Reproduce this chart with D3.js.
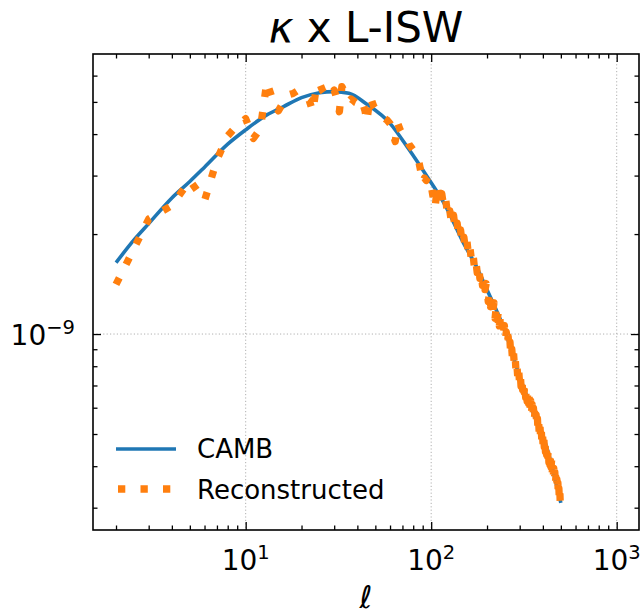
<!DOCTYPE html>
<html>
<head>
<meta charset="utf-8">
<script src="https://cdn.jsdelivr.net/npm/d3@7/dist/d3.min.js"></script>
<style>
  body { margin: 0; background: #fff; }
  svg { font-family: "DejaVu Sans", sans-serif; }
</style>
</head>
<body>
<div id="graphicContainer"></div>
<script>
// spectra are in units of 1e-9
var cambEll = [2, 2.5, 3, 4, 5, 6, 8, 10, 13, 16, 20, 25, 30, 36, 45, 60, 75, 95, 120, 150, 175, 200, 250, 300, 350, 420, 500]
var cambVal = [1.64, 1.92, 2.15, 2.57, 2.88, 3.18, 3.73, 4.12, 4.57, 4.84, 5.15, 5.33, 5.37, 5.31, 4.92, 4.31, 3.63, 2.98, 2.42, 1.87, 1.60, 1.36, 1.02, 0.745, 0.59, 0.455, 0.31]

var reconEll = [
  2, 3, 4, 5, 6, 7, 8, 9, 10, 11, 12, 13, 14, 15, 16, 17, 18, 19, 20, 21, 22, 23, 24, 25, 26,
  27, 28, 29, 30, 31, 32, 33, 34, 35, 36, 37, 38, 39, 40, 41, 42, 43, 44, 45, 46, 47, 48, 49, 50,
  52, 54, 56, 58, 60, 62, 64, 66, 68, 70, 72, 74, 76, 78, 80, 82, 84, 86, 88, 90, 92, 94, 96, 98, 100,
  102, 105, 108, 111, 114, 117, 120, 123, 126, 129, 132, 135, 138, 141, 144, 147, 150,
  153, 156, 159, 162, 165, 168, 171, 174, 177, 180, 183, 186, 189, 192, 195, 198,
  200, 203, 206, 209, 212, 215, 218, 221, 224, 227,
  230, 233, 236, 239, 242, 245, 248, 251, 254, 257,
  260, 263, 266, 269, 272, 275, 278, 281, 284, 287,
  290, 293, 296, 299, 302, 305, 308, 311, 314, 317,
  320, 323, 326, 329, 332, 335, 338, 341, 344, 347,
  350, 353, 356, 359, 362, 365, 368, 371, 374, 377,
  380, 383, 386, 389, 392, 395, 398, 401, 404, 407,
  410, 413, 416, 419, 422, 425, 428, 431, 434, 437,
  440, 443, 446, 449, 452, 455, 458, 461, 464, 467,
  470, 473, 476, 479, 482, 485, 488, 491, 494, 497,
  500
]
var reconVal = [
  1.41, 2.22, 2.44, 2.90, 2.52, 3.35, 3.95, 4.25, 4.45, 3.88, 4.15, 5.75, 5.05, 4.70, 5.00, 5.25, 5.30, 5.40, 5.32, 5.15, 5.05, 4.68, 5.50, 5.70, 5.40,
  5.25, 5.15, 5.30, 5.43, 5.10, 4.67, 5.56, 5.37, 5.20, 5.02, 5.10, 5.05, 4.98, 4.95, 5.05, 5.09, 4.90, 4.70, 4.36, 4.80, 5.18, 5.00, 4.85, 4.78,
  4.65, 4.55, 4.46, 4.40, 4.30, 4.05, 3.80, 4.31, 4.12, 4.00, 3.92, 3.89, 3.72, 3.65, 3.58, 3.42, 3.35, 3.28, 3.08, 2.87, 2.95, 2.90, 2.98, 2.92, 2.80,
  2.62, 2.40, 2.80, 2.48, 2.65, 2.40, 2.52, 2.25, 2.35, 2.14, 2.28, 2.05, 2.16, 1.95, 2.06, 1.86, 1.96,
  1.80, 1.90, 1.72, 1.81, 1.66, 1.74, 1.59, 1.67, 1.53, 1.61, 1.47, 1.54, 1.40, 1.48, 1.36, 1.42,
  1.383, 1.254, 1.320, 1.208, 1.285, 1.179, 1.242, 1.115, 1.202, 1.104,
  1.165, 1.058, 1.117, 1.023, 1.092, 1.004, 1.061, 0.964, 1.014, 0.926,
  0.983, 0.899, 0.945, 0.855, 0.900, 0.823, 0.875, 0.800, 0.842, 0.763,
  0.803, 0.737, 0.786, 0.722, 0.763, 0.696, 0.737, 0.679, 0.726, 0.668,
  0.707, 0.644, 0.682, 0.627, 0.671, 0.618, 0.655, 0.597, 0.629, 0.576,
  0.614, 0.565, 0.598, 0.545, 0.578, 0.533, 0.571, 0.526, 0.556, 0.506,
  0.536, 0.493, 0.528, 0.487, 0.517, 0.473, 0.503, 0.464, 0.496, 0.457,
  0.484, 0.442, 0.470, 0.433, 0.464, 0.427, 0.451, 0.411, 0.437, 0.403,
  0.432, 0.397, 0.419, 0.381, 0.403, 0.370, 0.394, 0.362, 0.384, 0.350,
  0.371, 0.341, 0.365, 0.336, 0.356, 0.324, 0.343, 0.314, 0.333, 0.303,
  0.302
]

var xMajor = [10, 100, 1000]
var xMajorExp = ["1", "2", "3"]
var xMinor = [2, 3, 4, 5, 6, 7, 8, 9, 20, 30, 40, 50, 60, 70, 80, 90, 200, 300, 400, 500, 600, 700, 800, 900]
var yMajor = [1]
var yMajorExp = ["\u22129"]
var yMinor = [0.3, 0.4, 0.5, 0.6, 0.7, 0.8, 0.9, 2, 3, 4, 5, 6]

var seriesNames = ["CAMB", "Reconstructed"]
var colours = ["#1f77b4", "#ff7f0e"]

var W = 642, H = 615
var margin = { top: 54, right: 3, bottom: 85, left: 93 }
var width = W - margin.left - margin.right
var height = H - margin.top - margin.bottom

var svg = d3.select("#graphicContainer").append("svg")
  .attr("width", W)
  .attr("height", H)

var x = d3.scaleLog().domain([1.503, 1319]).range([0, width])
var y = d3.scaleLog().domain([0.257, 6.97]).range([height, 0])

var g = svg.append("g").attr("transform", "translate(" + margin.left + "," + margin.top + ")")

svg.append("defs").append("clipPath").attr("id", "clip")
  .append("rect").attr("width", width).attr("height", height)

// dotted grid at major ticks
g.selectAll(".gridX").data(xMajor).enter().append("line")
  .attr("x1", d => x(d)).attr("x2", d => x(d))
  .attr("y1", 0).attr("y2", height)
  .attr("stroke", "#b0b0b0").attr("stroke-width", 1).attr("stroke-dasharray", "1.2,2.2")
g.selectAll(".gridY").data(yMajor).enter().append("line")
  .attr("y1", d => y(d)).attr("y2", d => y(d))
  .attr("x1", 0).attr("x2", width)
  .attr("stroke", "#b0b0b0").attr("stroke-width", 1).attr("stroke-dasharray", "1.2,2.2")

var plot = g.append("g").attr("clip-path", "url(#clip)")

var camb = cambEll.map((e, i) => [e, cambVal[i]])
var recon = reconEll.map((e, i) => [e, reconVal[i]]).filter(d => d[1] > 0)

plot.append("path")
  .datum(camb)
  .attr("fill", "none")
  .attr("stroke", colours[0])
  .attr("stroke-width", 3.6)
  .attr("d", d3.line().x(d => x(d[0])).y(d => y(d[1])).curve(d3.curveMonotoneX))

plot.append("path")
  .datum(recon)
  .attr("fill", "none")
  .attr("stroke", colours[1])
  .attr("stroke-width", 7.3)
  .attr("stroke-dasharray", "7.3,15.2")
  .attr("stroke-linejoin", "round")
  .attr("d", d3.line().x(d => x(d[0])).y(d => y(d[1])))

// inward ticks on all four sides
function ticks(axis, sel, major, minor) {
  sel.append("g").call(axis.tickValues(major).tickSize(-8).tickFormat(""))
  sel.append("g").call(axis.tickValues(minor).tickSize(-4.5).tickFormat(""))
}
ticks(d3.axisBottom(x), g.append("g").attr("transform", "translate(0," + height + ")"), xMajor, xMinor)
ticks(d3.axisTop(x), g.append("g"), xMajor, xMinor)
ticks(d3.axisLeft(y), g.append("g"), yMajor, yMinor)
ticks(d3.axisRight(y), g.append("g").attr("transform", "translate(" + width + ",0)"), yMajor, yMinor)
g.selectAll(".domain").remove()
g.selectAll(".tick line").attr("stroke", "#000").attr("stroke-width", 1.3)

g.append("rect")
  .attr("width", width).attr("height", height)
  .attr("fill", "none").attr("stroke", "#000").attr("stroke-width", 1.6)

// tick labels
var xl = g.selectAll(".xLab").data(xMajor).enter().append("text")
  .attr("x", d => x(d))
  .attr("y", height + 40)
  .attr("text-anchor", "middle")
  .style("font-size", "28px")
  .attr("fill", "#000")
xl.append("tspan").text("10")
xl.append("tspan").attr("dy", -11).style("font-size", "19.5px").text((d, i) => xMajorExp[i])

var yl = g.selectAll(".yLab").data(yMajor).enter().append("text")
  .attr("x", -18)
  .attr("y", d => y(d) + 11)
  .attr("text-anchor", "end")
  .style("font-size", "28px")
  .attr("fill", "#000")
yl.append("tspan").text("10")
yl.append("tspan").attr("dy", -11).style("font-size", "19.5px").text((d, i) => yMajorExp[i])

// axis label and title
svg.append("text")
  .attr("x", margin.left + width / 2)
  .attr("y", 608)
  .attr("text-anchor", "middle")
  .style("font-size", "31px")
  .style("font-style", "italic")
  .text("\u2113")

var title = svg.append("text")
  .attr("x", margin.left + width / 2)
  .attr("y", 42)
  .attr("text-anchor", "middle")
  .style("font-size", "42px")
title.append("tspan").style("font-style", "italic").text("\u03ba")
title.append("tspan").text(" x L-ISW")

// legend
var legend = svg.append("g")
legend.append("line")
  .attr("x1", 116).attr("x2", 176).attr("y1", 449).attr("y2", 449)
  .attr("stroke", colours[0]).attr("stroke-width", 3.6)
legend.append("line")
  .attr("x1", 118).attr("x2", 176).attr("y1", 489).attr("y2", 489)
  .attr("stroke", colours[1]).attr("stroke-width", 7.3).attr("stroke-dasharray", "7.3,15.2")
legend.selectAll(".keyText").data(seriesNames).enter().append("text")
  .attr("x", 197)
  .attr("y", (d, i) => 458 + i * 41)
  .style("font-size", "26px")
  .text(d => d)
</script>
</body>
</html>
